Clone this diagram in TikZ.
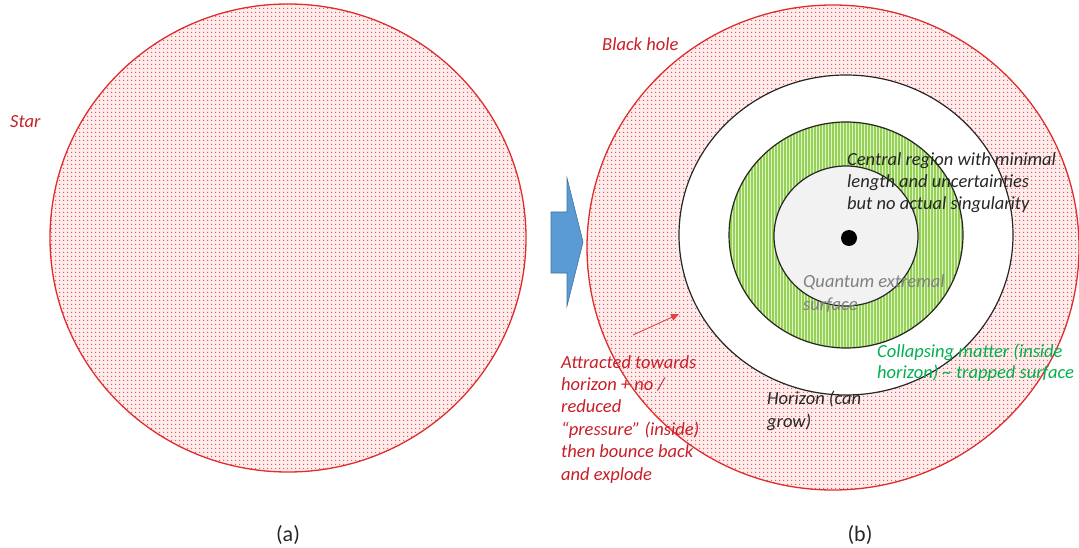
\documentclass[tikz,border=0pt]{standalone}
\usepackage{fontspec}
\setmainfont{Carlito}
\usetikzlibrary{patterns.meta,arrows.meta}
\definecolor{redline}{RGB}{222,45,45}
\definecolor{redtext}{RGB}{200,30,40}
\definecolor{greenfill}{RGB}{150,210,85}
\definecolor{greentext}{RGB}{0,176,80}
\definecolor{bluefill}{RGB}{91,155,213}
\definecolor{blueline}{RGB}{65,113,156}
\definecolor{darktext}{RGB}{38,38,38}
\definecolor{qtext}{RGB}{128,128,128}
\begin{document}
\begin{tikzpicture}[x=1pt,y=-1pt,
  lbl/.style={inner sep=0pt, align=left, font=\fontsize{18.5}{22.4}\selectfont\itshape},
  caplbl/.style={inner sep=0pt, font=\fontsize{22}{26}\selectfont, text=darktext},
  dotted region/.style={pattern={Dots[radius=0.85pt,distance=4pt]}, pattern color=redline!85},
  redring/.style={draw=redline, line width=1.3pt},
  blackring/.style={draw=black!85, line width=1.2pt}]
\useasboundingbox (0,0) rectangle (1079,548);
% left: star
\fill[red!7] (288,238) ellipse [x radius=238pt, y radius=234pt];
\path[dotted region] (288,238) ellipse [x radius=238pt, y radius=234pt];
\draw[redring] (288,238) ellipse [x radius=238pt, y radius=234pt];
% right: black hole
\fill[red!7] (833,247.5) ellipse [x radius=246pt, y radius=242.5pt];
\path[dotted region] (833,247.5) ellipse [x radius=246pt, y radius=242.5pt];
\draw[redring] (833,247.5) ellipse [x radius=246pt, y radius=242.5pt];
% horizon
\filldraw[fill=white, blackring] (846,235) ellipse [x radius=167pt, y radius=160pt];
% green ring
\filldraw[fill=greenfill, blackring] (846,235) ellipse [x radius=117pt, y radius=113pt];
\path[pattern={Lines[angle=90,distance=3pt,line width=0.5pt]}, pattern color=white!70!greenfill]
  (846,235) ellipse [x radius=116pt, y radius=112pt];
% inner
\filldraw[fill=black!5, blackring] (846,236) ellipse [x radius=72pt, y radius=70pt];
\fill[black] (849,238) circle [radius=8pt];
% blue arrow
\filldraw[fill=bluefill, draw=blueline, line width=0.6pt]
  (551,212) -- (567,212) -- (567,178) -- (583,242) -- (567,306) -- (567,273) -- (551,273) -- cycle;
% red arrow
\coordinate (atail) at (633,335);
\coordinate (ahead) at (679,314);
\draw[redline!90, line width=0.9pt, -{Triangle[length=8pt,width=7pt]}] (atail) -- (ahead);
% labels (base anchor = baseline of the last line)
\node[lbl, text=redtext, anchor=base west] (star) at (10,128) {Star};
\node[lbl, text=redtext, anchor=base west] (bh) at (602,51) {Black hole};
\node[lbl, text=redtext, anchor=base west] (attr) at (561,480)
  {Attracted towards\\horizon + no /\\reduced\\“pressure” (inside)\\then bounce back\\and explode};
\node[lbl, text=darktext, anchor=base west] (central) at (847,210)
  {Central region with minimal\\length and uncertainties\\but no actual singularity};
\node[lbl, text=qtext, anchor=base west] (qes) at (803,310) {Quantum extremal\\surface};
\node[lbl, text=greentext, anchor=base west, font=\fontsize{18.5}{21}\selectfont\itshape] (coll) at (877,378)
  {Collapsing matter (inside\\horizon) \textasciitilde{} trapped surface};
\node[lbl, text=darktext, anchor=base west] (hor) at (767,427) {Horizon (can\\grow)};
\node[caplbl, anchor=base] (capa) at (288,541) {(a)};
\node[caplbl, anchor=base] (capb) at (860,541) {(b)};
\end{tikzpicture}
\end{document}
